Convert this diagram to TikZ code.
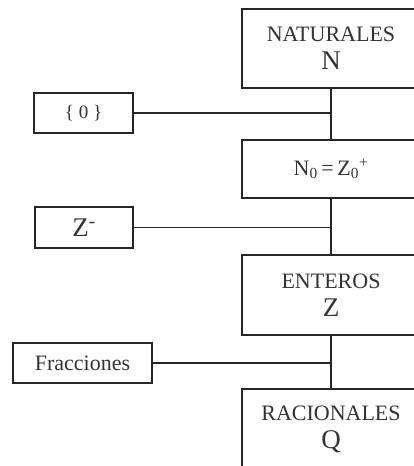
\documentclass[tikz,border=0pt]{standalone}
\usepackage{fontspec}
\setmainfont{Liberation Serif}
\usepackage{tikz}

\begin{document}
\begin{tikzpicture}[x=1pt,y=-1pt,line width=1.2pt,
    every node/.style={draw=black!85,text=black!80,inner sep=0pt,align=center,
      font=\fontsize{22}{28}\selectfont},
    grande/.style={minimum width=178pt,minimum height=80pt},
    chica/.style={minimum height=40pt}]
  \useasboundingbox (0,0) rectangle (414,466);
  \clip (0,0) rectangle (414,466);
  \fill[white] (0,0) rectangle (414,466);

  % columna principal
  \node[grande,minimum height=79pt] (nat) at (331,48.5)
    {NATURALES\\{\fontsize{27}{28}\selectfont N}};
  \node[grande,minimum height=58pt] (natcero) at (331,169)
    {N\textsubscript{0}\,=\,Z\textsubscript{0}\textsuperscript{+}};
  \node[grande] (ent) at (331,295)
    {ENTEROS\\{\fontsize{27}{28}\selectfont Z}};
  \node[grande] (rac) at (331,429)
    {RACIONALES\\{\fontsize{27}{28}\selectfont Q}};

  % conjuntos que se agregan
  \node[chica,minimum width=99pt,font=\fontsize{19}{22}\selectfont] (cero) at (83.5,113) {\{ 0 \}};
  \node[chica,minimum width=98pt,minimum height=41pt,font=\fontsize{27}{28}\selectfont] (zmenos) at (84,227.5)
    {Z\textsuperscript{-}};
  \node[chica,minimum width=139pt] (frac) at (82.5,363) {Fracciones};

  \foreach \a/\b in {nat/natcero,natcero/ent,ent/rac}{
    \draw[black!85] (\a.south) -- (\b.north);
  }
  \foreach \l/\r in {cero/nat,zmenos/natcero,frac/ent}{
    \draw[black!85] (\l.east) -- (\l.east -| \r.south);
  }
\end{tikzpicture}
\end{document}
